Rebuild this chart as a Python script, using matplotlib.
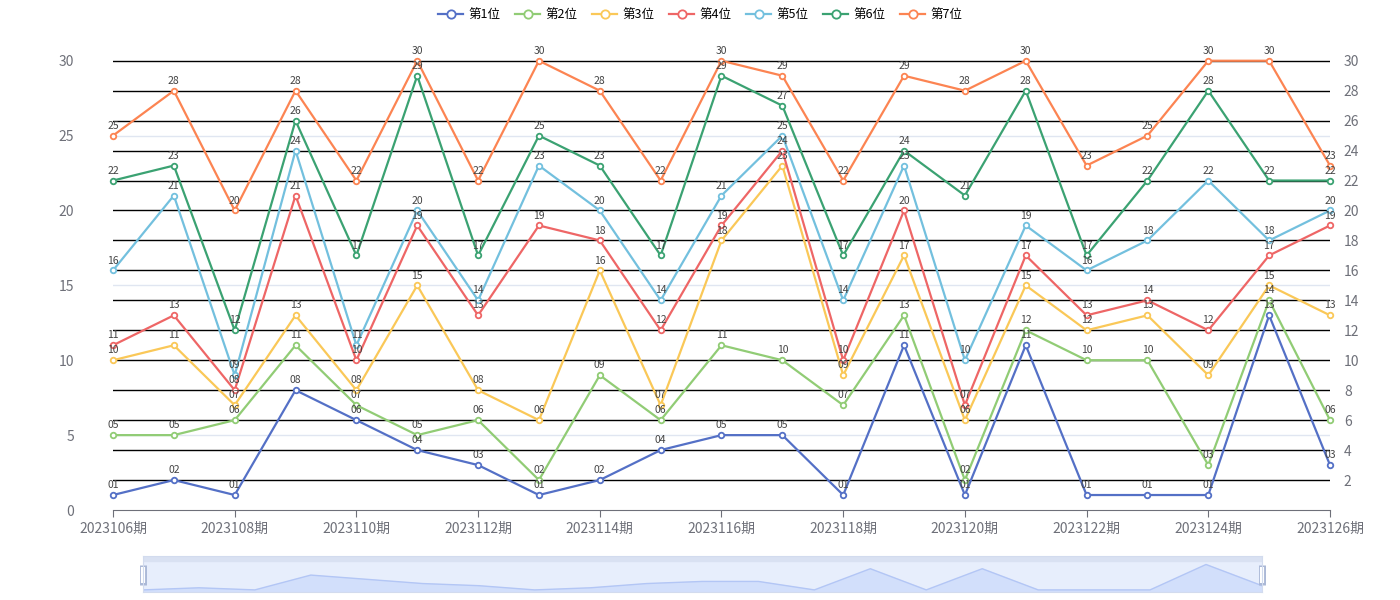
from matplotlib import pyplot as plt
import numpy as np

plt.rcParams['font.family'] = ['Noto Sans CJK SC', 'DejaVu Sans']

periods = [f"2023{n}期" for n in range(106, 127)]

pos1 = [1, 2, 1, 8, 6, 4, 3, 1, 2, 4, 5, 5, 1, 11, 1, 11, 1, 1, 1, 13, 3]
pos2 = [5, 5, 6, 11, 7, 5, 6, 2, 9, 6, 11, 10, 7, 13, 2, 12, 10, 10, 3, 14, 6]
pos3 = [10, 11, 7, 13, 8, 15, 8, 6, 16, 7, 18, 23, 9, 17, 6, 15, 12, 13, 9, 15, 13]
pos4 = [11, 13, 8, 21, 10, 19, 13, 19, 18, 12, 19, 24, 10, 20, 7, 17, 13, 14, 12, 17, 19]
pos5 = [16, 21, 9, 24, 11, 20, 14, 23, 20, 14, 21, 25, 14, 23, 10, 19, 16, 18, 22, 18, 20]
pos6 = [22, 23, 12, 26, 17, 29, 17, 25, 23, 17, 29, 27, 17, 24, 21, 28, 17, 22, 28, 22, 22]
pos7 = [25, 28, 20, 28, 22, 30, 22, 30, 28, 22, 30, 29, 22, 29, 28, 30, 23, 25, 30, 30, 23]

names = ["第1位", "第2位", "第3位", "第4位", "第5位", "第6位", "第7位"]
series = [pos1, pos2, pos3, pos4, pos5, pos6, pos7]
colors = ['#5470c6', '#91cc75', '#fac858', '#ee6666', '#73c0de', '#3ba272', '#fc8452']

fig = plt.figure(figsize=(14, 6), dpi=100)
ax = fig.add_axes([0.0807, 0.15, 0.8693, 0.75])
ax2 = ax.twinx()

x = np.arange(len(periods))
ytop = 30.05

# right axis carries the black grid (and the light left-axis grid as minor lines)
ax2.set_ylim(0, ytop)
ax2.set_yticks(np.arange(2, 31, 2))
ax2.set_yticks([5, 15, 25], minor=True)
ax2.grid(True, which='major', color='black', lw=1)
ax2.grid(True, which='minor', color='#e0e6f1', lw=1)
ax2.tick_params(axis='y', which='both', length=0, labelsize=10, labelcolor='#6e7079', pad=10)
for s in ax2.spines.values():
    s.set_visible(False)

# left axis with series on top
ax.set_zorder(ax2.get_zorder() + 1)
ax.patch.set_visible(False)
ax.set_xlim(0, len(periods) - 1)
ax.set_ylim(0, ytop)
ax.set_yticks(np.arange(0, 31, 5))
ax.tick_params(axis='y', length=0, labelsize=10, labelcolor='#6e7079', pad=28)
ax.set_xticks(x[::2])
ax.set_xticklabels(periods[::2])
ax.tick_params(axis='x', length=5, color='#6e7079', labelsize=10, labelcolor='#6e7079')
for side in ['top', 'right', 'left']:
    ax.spines[side].set_visible(False)
ax.spines['bottom'].set_color('#6e7079')

for name, vals, c in zip(names, series, colors):
    ax.plot(x, vals, color=c, lw=1.6, marker='o', ms=4, mfc='white', mec=c,
            mew=1.3, label=name, clip_on=False)
    for xi, v in zip(x, vals):
        ax.annotate(f"{v:02d}", (xi, v), xytext=(0, 3.5), textcoords='offset points',
                    ha='center', va='bottom', fontsize=7.5, color='#444444')

fig.legend(loc='upper center', bbox_to_anchor=(0.5, 1.005), ncol=7, frameon=False,
           fontsize=9, handlelength=2, handletextpad=0.4, columnspacing=1.2,
           markerscale=1.5)

# data zoom slider
sl = fig.add_axes([0.1021, 0.0133, 0.7993, 0.06])
sl.set_xlim(0, len(periods) - 1)
sl.set_ylim(0, 17)
sl.set_facecolor('#e7eefc')
sl.fill_between(x, pos1, color='#d2dffb')
sl.plot(x, pos1, color='#b3c6f5', lw=1)
sl.set_xticks([])
sl.set_yticks([])
for s in sl.spines.values():
    s.set_color('#d2dbee')
sl.axhspan(14.5, 17, color='#d9e1f2')
for xe in [0, len(periods) - 1]:
    sl.plot([xe], [8], marker='|', ms=14, mew=5, color='#aab8d6', clip_on=False)
    sl.plot([xe], [8], marker='|', ms=12, mew=3, color='white', clip_on=False)

fig.savefig('out.png', dpi=100)
